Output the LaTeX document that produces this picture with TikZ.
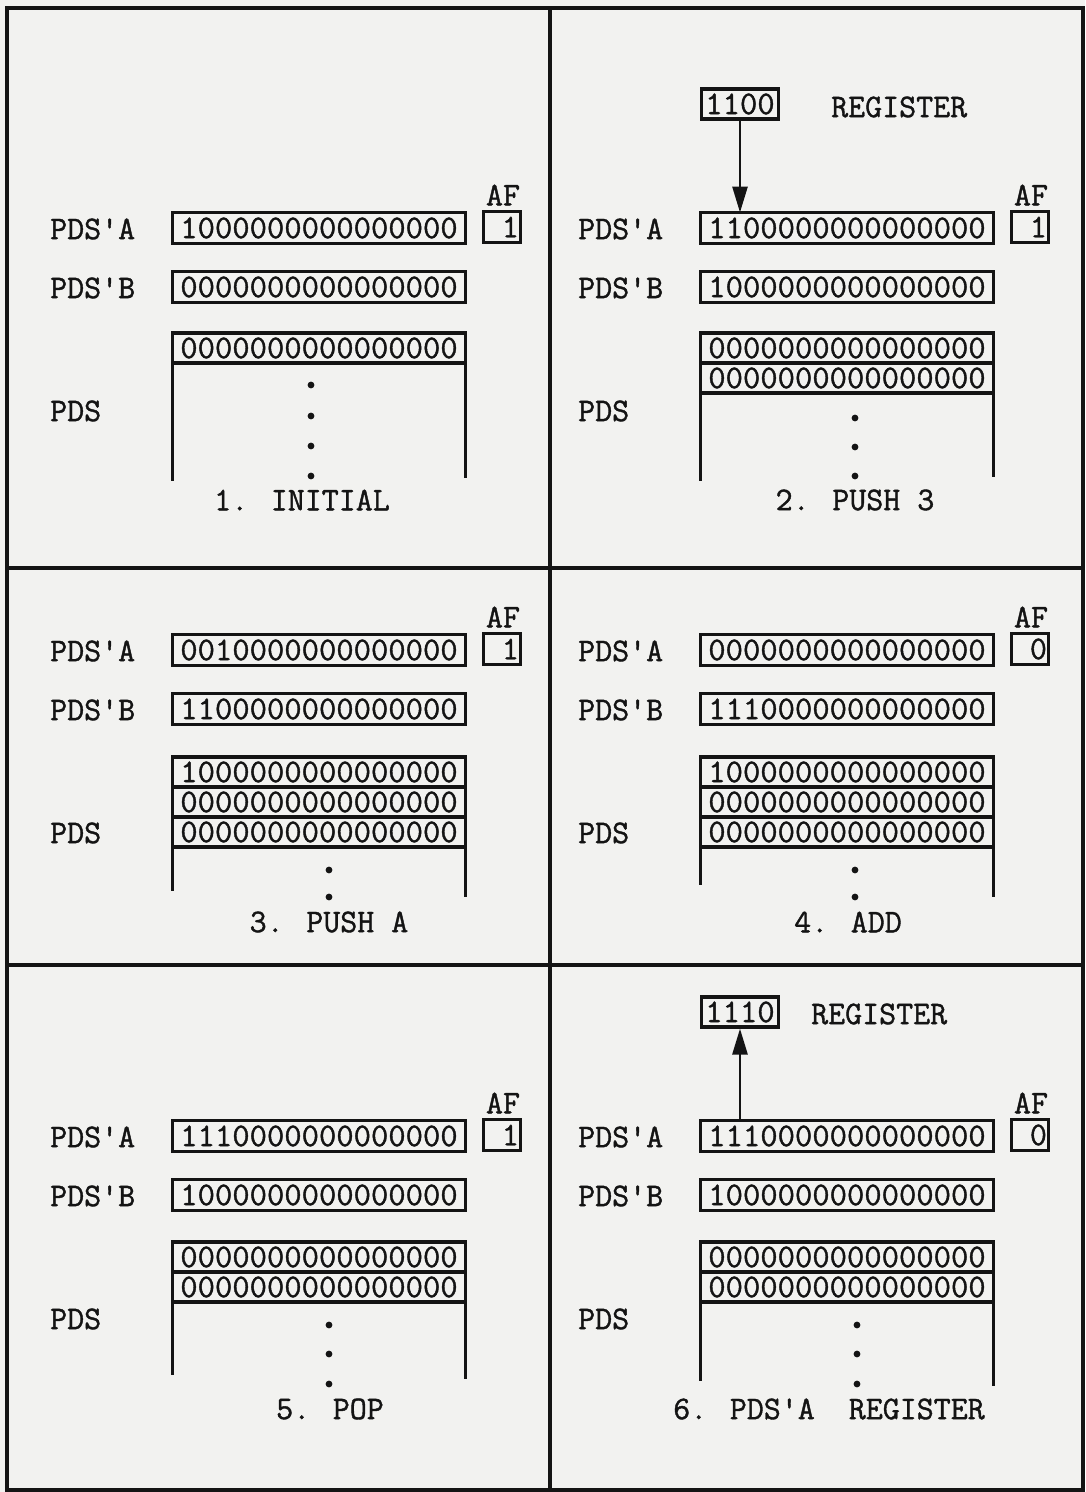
\documentclass[tikz,border=0pt]{standalone}
\usepackage{fontspec}
\usepackage{graphicx}
\usetikzlibrary{arrows.meta}
\newfontfamily\tyfont[FakeBold=1.2]{Latin Modern Mono}
\definecolor{paper}{RGB}{242,242,240}
\definecolor{ink}{RGB}{20,20,20}
\newcommand\tf{\fontsize{33}{36}\selectfont\tyfont}
\newcommand\ap{\textquotesingle}
\newcommand\dg[1]{\scalebox{1.02}[1.0]{#1}}
\tikzset{
  lab/.style={anchor=west,inner sep=0pt,font=\tf,text=ink},
  captxt/.style={inner sep=0pt,font=\tf,text=ink},
  word/.style={draw=ink,line width=3.2pt,minimum width=293pt,minimum height=31pt,inner sep=0pt,outer sep=0pt,font=\tf,text=ink},
  row/.style={word,minimum height=30pt,anchor=north},
  afbox/.style={draw=ink,line width=3.2pt,minimum width=37pt,minimum height=31pt,inner sep=0pt},
  afdig/.style={inner sep=0pt,font=\tf,text=ink},
  aflab/.style={inner sep=0pt,font=\tf,text=ink},
  regbox/.style={draw=ink,line width=3.2pt,minimum width=77pt,minimum height=30pt,inner sep=0pt,font=\tf,text=ink},
  frame/.style={draw=ink,line width=3.2pt},
  side/.style={draw=ink,line width=3.2pt},
  arr/.style={draw=ink,line width=2.8pt,-{Triangle[length=26pt,width=15pt]}},
  dot/.style={fill=ink}
}
% id, x-offset, yA, A text, B text, AF digit
\newcommand\mypanel[6]{%
  \begin{scope}[shift={(#2,0)}]
    \node[lab] (pa#1) at (50,#3) {PDS\ap A};
    \node[word] (a#1) at (319,#3-1) {\dg{#4}};
    \node[lab] (pb#1) at (50,#3+59) {PDS\ap B};
    \node[word] (b#1) at (319,#3+58) {\dg{#5}};
    \node[afbox] (f#1) at (502,#3-2) {};
    \node[afdig,anchor=east] (fd#1) at ([xshift=-3pt]f#1.east) {#6};
    \node[aflab] (fl#1) at (503,#3-34) {AF};
    \node[lab] (pd#1) at (50,#3+182) {PDS};
  \end{scope}}
\begin{document}
\begin{tikzpicture}[x=1pt,y=-1pt]
\fill[paper] (0,0) rectangle (1085,1492);
\useasboundingbox (0,0) rectangle (1085,1492);
% frame
\draw[frame] (7,8) rectangle (1083,1490);
\draw[frame] (550,8) -- (550,1490);
\draw[frame] (7,568) -- (1083,568);
\draw[frame] (7,965) -- (1083,965);

% ---------- panel 1 ----------
\mypanel{1}{0}{229}{1000000000000000}{0000000000000000}{1}
\node[row] (s1a) at (319,333) {\dg{0000000000000000}};
\draw[side] (s1a.north west) -- (s1a.north west |- 0,481);
\draw[side] (s1a.north east) -- (s1a.north east |- 0,478);
\foreach \y in {385,416,446,476} \fill[dot] (311,\y) circle (3.4pt);
\node[captxt] (c1) at (302,500) {1. INITIAL};

% ---------- panel 2 ----------
\mypanel{2}{528}{229}{1100000000000000}{1000000000000000}{1}
\node[row] (s2a) at (847,333) {\dg{0000000000000000}};
\node[row] (s2b) at (s2a.south) {\dg{0000000000000000}};
\draw[side] (s2a.north west) -- (s2a.north west |- 0,481);
\draw[side] (s2a.north east) -- (s2a.north east |- 0,477);
\foreach \y in {418,447,476} \fill[dot] (855,\y) circle (3.4pt);
\node[captxt] (c2) at (855,500) {2. PUSH 3};
\node[regbox] (r2) at (740,104) {\dg{1100}};
\node[captxt,anchor=west] (rl2) at (831,107) {REGISTER};
\draw[arr] (r2.south) -- (r2.south |- a2.north);

% ---------- panel 3 ----------
\mypanel{3}{0}{651}{0010000000000000}{1100000000000000}{1}
\node[row] (s3a) at (319,757) {\dg{1000000000000000}};
\node[row] (s3b) at (s3a.south) {\dg{0000000000000000}};
\node[row] (s3c) at (s3b.south) {\dg{0000000000000000}};
\draw[side] (s3a.north west) -- (s3a.north west |- 0,891);
\draw[side] (s3a.north east) -- (s3a.north east |- 0,897);
\foreach \y in {870,897} \fill[dot] (329,\y) circle (3.4pt);
\node[captxt] (c3) at (329,922) {3. PUSH A};

% ---------- panel 4 ----------
\mypanel{4}{528}{651}{0000000000000000}{1110000000000000}{0}
\node[row] (s4a) at (847,757) {\dg{1000000000000000}};
\node[row] (s4b) at (s4a.south) {\dg{0000000000000000}};
\node[row] (s4c) at (s4b.south) {\dg{0000000000000000}};
\draw[side] (s4a.north west) -- (s4a.north west |- 0,885);
\draw[side] (s4a.north east) -- (s4a.north east |- 0,897);
\foreach \y in {870,897} \fill[dot] (855,\y) circle (3.4pt);
\node[captxt] (c4) at (848,922) {4. ADD};

% ---------- panel 5 ----------
\mypanel{5}{0}{1137}{1110000000000000}{1000000000000000}{1}
\node[row] (s5a) at (319,1242) {\dg{0000000000000000}};
\node[row] (s5b) at (s5a.south) {\dg{0000000000000000}};
\draw[side] (s5a.north west) -- (s5a.north west |- 0,1375);
\draw[side] (s5a.north east) -- (s5a.north east |- 0,1379);
\foreach \y in {1325,1354,1384} \fill[dot] (329,\y) circle (3.4pt);
\node[captxt] (c5) at (330,1409) {5. POP};

% ---------- panel 6 ----------
\mypanel{6}{528}{1137}{1110000000000000}{1000000000000000}{0}
\node[row] (s6a) at (847,1242) {\dg{0000000000000000}};
\node[row] (s6b) at (s6a.south) {\dg{0000000000000000}};
\draw[side] (s6a.north west) -- (s6a.north west |- 0,1381);
\draw[side] (s6a.north east) -- (s6a.north east |- 0,1386);
\foreach \y in {1325,1354,1384} \fill[dot] (857,\y) circle (3.4pt);
\node[captxt] (c6) at (829,1409) {6. PDS\ap A\ \ REGISTER};
\node[regbox] (r6) at (740,1012) {\dg{1110}};
\node[captxt,anchor=west] (rl6) at (811,1014) {REGISTER};
\draw[arr] (r6.south |- a6.north) -- (r6.south);
\end{tikzpicture}
\end{document}
